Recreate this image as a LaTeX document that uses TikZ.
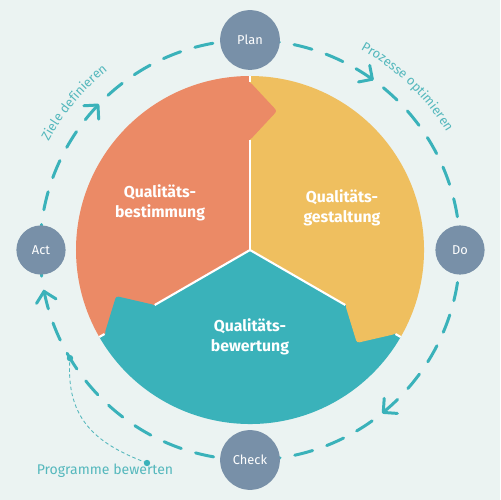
\documentclass[tikz,border=0pt]{standalone}
\usepackage{fontspec}
\setmainfont{Fira Sans}
\usetikzlibrary{decorations.text}
\definecolor{Mint}{HTML}{EBF3F2}
\definecolor{Coral}{HTML}{EB8A66}
\definecolor{Honey}{HTML}{EFBF5F}
\definecolor{Lagoon}{HTML}{3AB2BA}
\definecolor{Steel}{HTML}{7890A8}
\definecolor{LabelTeal}{HTML}{55B8BD}

\begin{document}
\begin{tikzpicture}[x=0.02cm,y=0.02cm,
  phase/.style={circle,fill=Steel,text=white,inner sep=0pt,font=\fontsize{7.3}{9}\selectfont},
  sectlabel/.style={text=white,align=center,font=\bfseries\fontsize{9}{11.5}\selectfont},
  loopline/.style={Lagoon,line width=1.7pt,line cap=round,line join=round},
  arclabel/.style={decorate,decoration={text along path,text align=center,
      text={|\color{LabelTeal}\fontsize{7.4}{9}\selectfont|#1}}}]
  \fill[Mint] (-250,-250) rectangle (250,250);
  % sectors, then the tabs on top of the neighbour
  \foreach \col/\a in {Coral/90,Honey/-30,Lagoon/210}
    \fill[\col] (0,0) -- (\a:174) arc[start angle=\a,delta angle=120,radius=174] -- cycle;
  \foreach \col/\a in {Coral/90,Honey/-30,Lagoon/210}{
    \fill[\col,rounded corners=1.5pt] (\a:110) -- (\a-11:141.6) -- (\a:168) -- (\a+4:165) -- (\a+4:112) -- cycle;
    \draw[white,line width=1.2pt] (0,0) -- (\a:110) (\a:168) -- (\a:174);
  }
  \node[sectlabel] (bestimmung) at (-90,47) {Qualitäts-\\bestimmung};
  \node[sectlabel] (gestaltung) at (92,42) {Qualitäts-\\gestaltung};
  \node[sectlabel] (bewertung) at (0,-87) {Qualitäts-\\bewertung};

  % PDCA loop
  \draw[loopline,dash pattern=on 10.5pt off 8.5pt] (0,0) circle[radius=210];
  \foreach \t in {56,138,193,311}
    \draw[loopline,rotate=\t] (220,4) -- (210,-6) -- (200,4);
  \path[arclabel={Prozesse optimieren}] (71:229) arc[start angle=71,end angle=21,radius=229];
  \path[arclabel={Ziele definieren}] (165:229) arc[start angle=165,end angle=115,radius=229];

  \node[phase,minimum size=34pt] (plan) at (0,210) {Plan};
  \node[phase,minimum size=28pt] (do) at (210,0) {Do};
  \node[phase,minimum size=34pt] (check) at (0,-210) {Check};
  \node[phase,minimum size=28pt] (act) at (-209,0) {Act};

  % callout
  \coordinate (actdot) at (211:210);
  \coordinate (progdot) at (-103,-213);
  \node[text=LabelTeal,font=\fontsize{8}{10}\selectfont] (prog) at (-145,-221) {Programme bewerten};
  \draw[LabelTeal,line width=0.5pt,dash pattern=on 2pt off 1.5pt] (progdot) .. controls (-150,-195) and (-185,-172) .. (actdot);
  \fill[Lagoon] (actdot) circle[radius=3.2] (progdot) circle[radius=3.2];
\end{tikzpicture}
\end{document}
